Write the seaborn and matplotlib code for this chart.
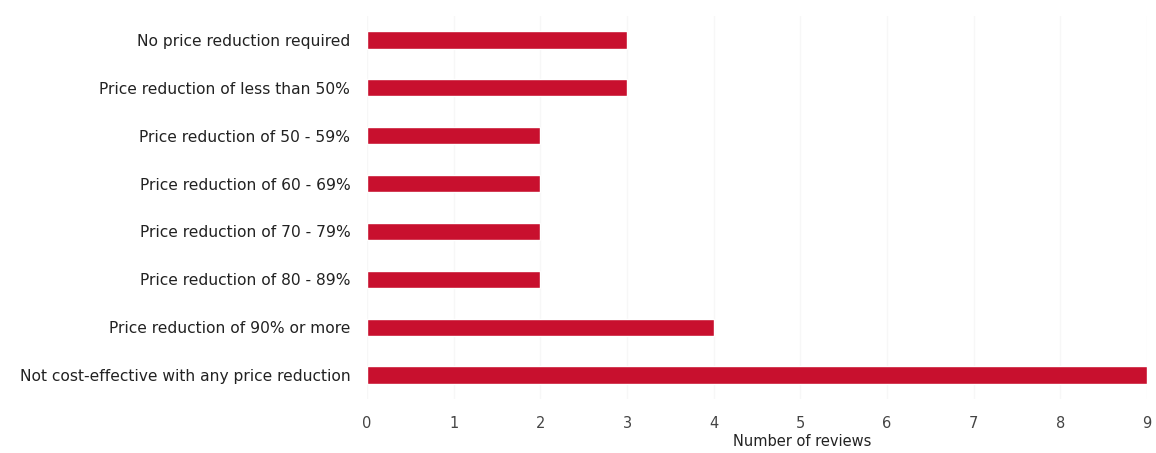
import matplotlib
matplotlib.use("Agg")
import matplotlib.pyplot as plt
import seaborn as sns
import pandas as pd

categories = [
    "No price reduction required",
    "Price reduction of less than 50%",
    "Price reduction of 50 - 59%",
    "Price reduction of 60 - 69%",
    "Price reduction of 70 - 79%",
    "Price reduction of 80 - 89%",
    "Price reduction of 90% or more",
    "Not cost-effective with any price reduction",
]
reviews = [3, 3, 2, 2, 2, 2, 4, 9]
x_ticks = [0, 1, 2, 3, 4, 5, 6, 7, 8, 9]

sns.set_theme(style="white")
plt.rcParams['font.family'] = ['DejaVu Sans']

df = pd.DataFrame({"category": categories, "reviews": reviews})

fig = plt.figure(figsize=(11.56, 4.53), dpi=100)
ax = fig.add_axes([367/1156, 1 - 399/453, (1147 - 367)/1156, (399 - 16)/453])

sns.barplot(data=df, x="reviews", y="category", color="#c8102e", width=0.36,
            saturation=1, ax=ax, orient="h")

ax.set_xlim(0, 9)
ax.set_xticks(x_ticks)
ax.set_xticklabels([str(t) for t in x_ticks], fontsize=10.5, color="#444444")
ax.tick_params(axis="y", labelsize=11.2, labelcolor="#222222", length=0, pad=12)
ax.tick_params(axis="x", length=0, pad=12)
ax.set_ylabel("")
ax.set_xlabel("Number of reviews", fontsize=10.5, color="#222222")
ax.xaxis.set_label_coords((802 - 367) / 780, -(442 - 399) / 383, transform=ax.transAxes)
ax.xaxis.label.set_va("center")
ax.xaxis.grid(True, color="#f7f7f7", linewidth=1)
ax.set_axisbelow(True)
for s in ax.spines.values():
    s.set_visible(False)

fig.savefig("out.png", dpi=100)
